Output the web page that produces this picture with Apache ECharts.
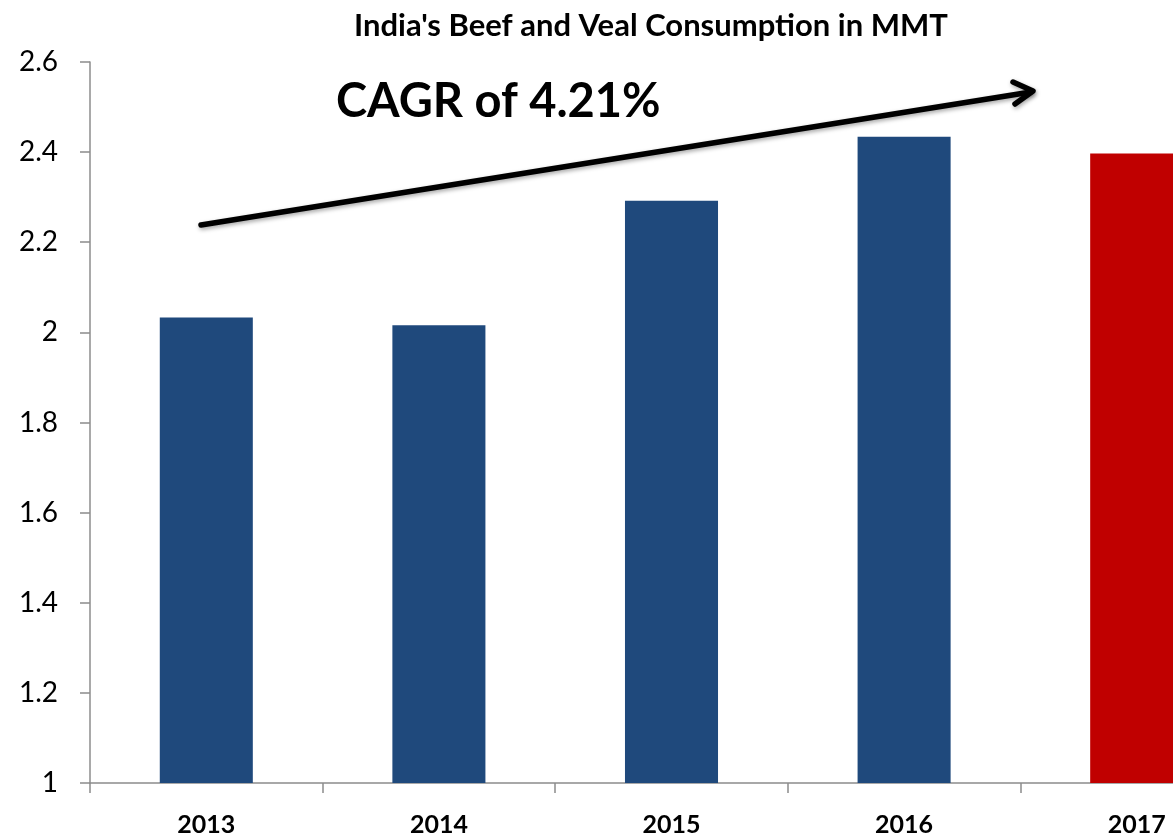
<!DOCTYPE html>
<html>
<head>
<meta charset="utf-8">
<script src="https://cdn.jsdelivr.net/npm/echarts@6/dist/echarts.min.js"></script>
<style>
  html, body { margin: 0; padding: 0; background: #fff; overflow: hidden; width: 1173px; height: 837px; }
  /* the canvas is wider than the page so the last category is cut off at the right edge */
  #chart { width: 1253px; height: 837px; }
</style>
</head>
<body>
<div id="chart"></div>
<script>
// India's beef and veal consumption, million metric tonnes
const years = ['2013', '2014', '2015', '2016', '2017'];
const consumption = [2.033, 2.016, 2.292, 2.434, 2.397];
const yTicks = { min: 1, max: 2.6, step: 0.2 };
const titleText = "India's Beef and Veal Consumption in MMT";
const cagrText = 'CAGR of 4.21%';

const BLUE = '#1F497C';
const RED = '#C00000';
const AXIS = '#8C8C8C';
const FONT = 'Lato, "Open Sans", sans-serif';

const chart = echarts.init(document.getElementById('chart'), null, { renderer: 'canvas' });

chart.setOption({
  animation: false,
  backgroundColor: '#ffffff',
  title: {
    text: titleText,
    left: 349,
    top: 5,
    textStyle: { fontFamily: FONT, fontWeight: 'bold', fontSize: 31, color: '#000' }
  },
  grid: { left: 90, top: 62, bottom: 54, right: 0, containLabel: false },
  xAxis: {
    type: 'category',
    data: years,
    axisLine: { lineStyle: { color: AXIS, width: 1.5 } },
    axisTick: { show: true, length: 10, lineStyle: { color: AXIS, width: 1.5 } },
    axisLabel: {
      margin: 29,
      fontFamily: FONT, fontWeight: 'bold', fontSize: 25, color: '#000'
    },
    splitLine: { show: false }
  },
  yAxis: {
    type: 'value',
    min: yTicks.min,
    max: yTicks.max,
    interval: yTicks.step,
    axisLine: { show: true, lineStyle: { color: AXIS, width: 1.5 } },
    axisTick: { show: true, length: 10, lineStyle: { color: AXIS, width: 1.5 } },
    axisLabel: {
      margin: 32,
      fontFamily: FONT, fontSize: 28, color: '#000',
      formatter: v => String(Math.round(v * 10) / 10)
    },
    splitLine: { show: false }
  },
  series: [{
    type: 'bar',
    data: consumption,
    barWidth: '40%',
    itemStyle: {
      color: p => (p.dataIndex === years.length - 1 ? RED : BLUE)
    }
  }],
  graphic: [
    {
      type: 'text',
      left: 336,
      top: 78,
      style: {
        text: cagrText,
        fontFamily: FONT, fontWeight: 'bold', fontSize: 47, fill: '#000'
      }
    },
    {
      // trend arrow shaft
      type: 'line',
      shape: { x1: 201, y1: 225, x2: 1031, y2: 92 },
      style: {
        stroke: '#000', lineWidth: 5.5, lineCap: 'round',
        shadowBlur: 4, shadowColor: 'rgba(0,0,0,0.35)', shadowOffsetX: 1, shadowOffsetY: 2
      }
    },
    {
      // open arrowhead
      type: 'polyline',
      shape: { points: [[1013, 82], [1033, 91], [1015, 104]] },
      style: {
        stroke: '#000', fill: null, lineWidth: 5.5, lineCap: 'round', lineJoin: 'round',
        shadowBlur: 4, shadowColor: 'rgba(0,0,0,0.35)', shadowOffsetX: 1, shadowOffsetY: 2
      }
    }
  ]
});
</script>
</body>
</html>
